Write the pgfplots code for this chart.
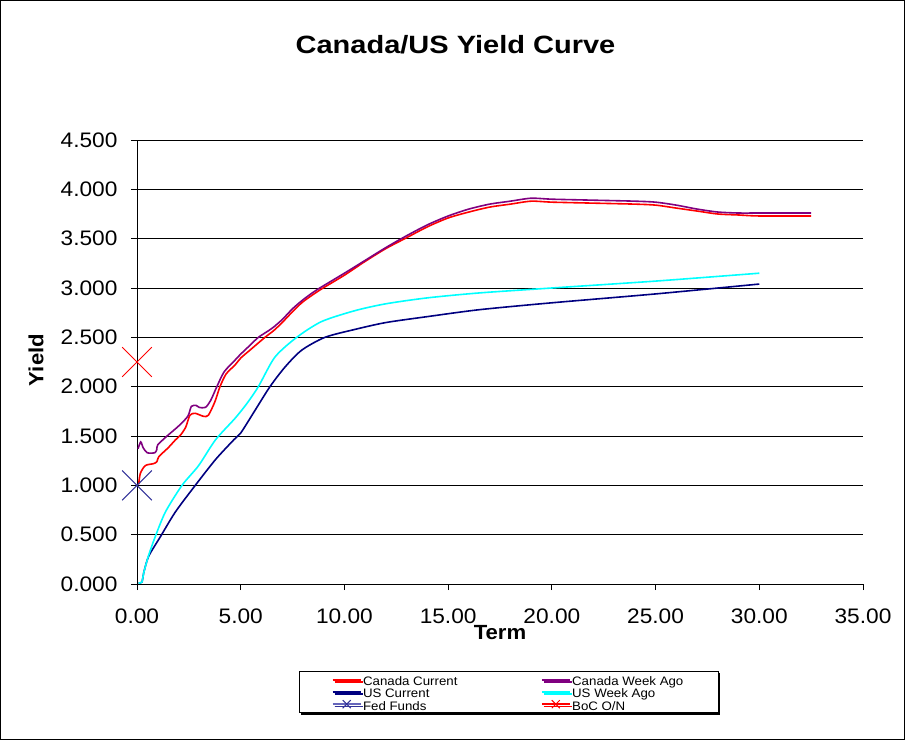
\documentclass[border=0pt]{standalone}
\usepackage{fontspec}
\setmainfont{Liberation Sans}[FakeStretch=1.08]
\newfontfamily\titlefont{Liberation Sans}[FakeStretch=1.16]
\usepackage{pgfplots}
\pgfplotsset{compat=1.18}
\usetikzlibrary{shadows}
\definecolor{cnow}{RGB}{255,0,0}
\definecolor{cweek}{RGB}{128,0,128}
\definecolor{usnow}{RGB}{0,0,128}
\definecolor{usweek}{RGB}{0,255,255}
\definecolor{fedmark}{RGB}{51,51,153}
\definecolor{fedline}{RGB}{102,102,187}
\begin{document}
\begin{tikzpicture}[x=1pt,y=1pt]
\useasboundingbox (0,0) rectangle (906,740);
\draw[black, line width=1pt] (0.5,0.5) rectangle (904.5,739.5);
\begin{axis}[
  at={(137pt,156pt)}, anchor=south west,
  scale only axis, width=726pt, height=444pt,
  xmin=0, xmax=35, ymin=0, ymax=4.5,
  xtick={0,5,10,15,20,25,30,35},
  ytick={0,0.5,1,1.5,2,2.5,3,3.5,4,4.5},
  axis lines*=left,
  axis line style={black, line width=1pt, -},
  ymajorgrids, grid style={black, line width=0.8pt},
  tick style={black, line width=0.8pt},
  tick align=outside, major tick length=6pt,
  tick label style={font=\fontsize{21}{24}\selectfont},
  /pgf/number format/assume math mode=true,
  xticklabel style={yshift=-15pt, /pgf/number format/.cd, fixed, fixed zerofill, precision=2},
  yticklabel style={xshift=-10pt, /pgf/number format/.cd, fixed, fixed zerofill, precision=3},
  clip=false,
  legend columns=2,
  legend cell align=left,
  legend style={at={(0.5116,-0.2432)}, anchor=center, draw=black, line width=0.8pt,
    font=\fontsize{12.3}{13}\selectfont, inner xsep=33pt, inner ysep=2.5pt,
    row sep=0pt,
    nodes={inner xsep=1.5pt, inner ysep=0pt, text height=12pt, text depth=0.2pt},
    /tikz/every even column/.append style={column sep=82pt},
    drop shadow={shadow xshift=2pt, shadow yshift=-2pt, fill=black, opacity=1}},
  legend image code/.code={\draw[#1] (0pt,0pt) -- (28pt,0pt);},
  every axis plot/.append style={line width=1.6pt},
]
\addplot[cnow, smooth, tension=0.45] coordinates {
(0.08,1.01) (0.16,1.12) (0.4,1.20) (0.8,1.22) (0.96,1.24) (1.05,1.29)
(1.5,1.38) (1.85,1.46) (2.1,1.51) (2.35,1.59) (2.55,1.71) (2.8,1.73) (3.2,1.70) (3.44,1.71)
(3.76,1.85) (4.0,2.00) (4.3,2.13) (4.73,2.22) (5.0,2.29) (5.5,2.38) (6.17,2.50)
(6.6,2.57) (7.0,2.65) (7.5,2.76) (8.0,2.86) (8.82,2.98) (10,3.13) (11,3.27)
(12,3.40) (13,3.51) (14,3.62) (15,3.71) (16,3.77) (17,3.82) (18,3.85) (19,3.88)
(20,3.87) (22,3.86) (24,3.85) (25,3.84) (26,3.81) (27,3.78) (28,3.75) (29,3.74)
(30,3.73) (32.5,3.73)};
\addlegendentry{Canada Current}
\addplot[cweek, smooth, tension=0.45] coordinates {
(0.05,1.37) (0.18,1.44) (0.3,1.38) (0.5,1.33) (0.85,1.33) (0.95,1.36) (1.0,1.41)
(1.45,1.50) (2.0,1.60) (2.45,1.70) (2.62,1.80) (2.85,1.81) (3.0,1.79) (3.3,1.79)
(3.55,1.86) (3.85,2.00) (4.2,2.15) (4.73,2.27) (5.0,2.33) (5.5,2.43) (5.85,2.50)
(6.5,2.59) (7.0,2.68) (7.5,2.79) (8.0,2.88) (8.66,2.98) (10,3.15) (11,3.28)
(12,3.41) (13,3.53) (14,3.64) (15,3.73) (16,3.80) (17,3.85) (18,3.88) (19,3.91)
(20,3.90) (22,3.89) (24,3.88) (25,3.87) (26,3.84) (27,3.80) (28,3.77) (29,3.76)
(30,3.76) (32.5,3.76)};
\addlegendentry{Canada Week Ago}
\addplot[usnow, smooth, tension=0.45] coordinates {
(0.08,0.01) (0.24,0.02) (0.32,0.11) (0.56,0.28) (1.13,0.48) (1.85,0.73) (2.81,1.00)
(3.78,1.26) (4.66,1.46) (5.0,1.53) (5.69,1.76) (6.41,2.00) (7.14,2.20) (7.94,2.37)
(9.06,2.50) (10.5,2.58) (12,2.65) (14,2.71) (16.5,2.78) (20,2.85) (25,2.94) (30,3.04)};
\addlegendentry{US Current}
\addplot[usweek, smooth, tension=0.45] coordinates {
(0.08,0.01) (0.24,0.02) (0.32,0.11) (0.56,0.29) (0.88,0.48) (1.37,0.73) (2.17,1.00)
(2.97,1.20) (3.78,1.46) (4.73,1.68) (5.3,1.83) (5.85,2.00) (6.65,2.30) (7.7,2.50)
(8.9,2.66) (10.5,2.77) (12,2.84) (14,2.90) (16.5,2.95) (20,3.00) (25,3.07) (30,3.15)};
\addlegendentry{US Week Ago}
\addplot[fedmark, mark=x, mark size=21pt, line width=1pt,
  legend image code/.code={\draw[fedline, line width=1.6pt] (0pt,0pt) -- (28pt,0pt);
    \draw[fedmark, line width=1pt] plot[mark=x, mark size=5.7pt] coordinates {(14pt,0pt)};}]
  coordinates {(0,1.0)};
\addlegendentry{Fed Funds}
\addplot[cnow, mark=x, mark size=21pt, line width=1pt,
  legend image code/.code={\draw[cnow, line width=1.6pt] (0pt,0pt) -- (28pt,0pt);
    \draw[cnow, line width=1pt] plot[mark=x, mark size=5.7pt] coordinates {(14pt,0pt)};}]
  coordinates {(0,2.25)};
\addlegendentry{BoC O/N}
\end{axis}
\node[anchor=base, font=\titlefont\bfseries\fontsize{25}{28}\selectfont] at (455.5,686.7) {Canada/US Yield Curve};
\node[anchor=base, font=\bfseries\fontsize{20.5}{24}\selectfont] at (500,100) {Term};
\node[anchor=base, rotate=90, font=\bfseries\fontsize{20.5}{24}\selectfont] at (43.3,380) {Yield};
\end{tikzpicture}
\end{document}
